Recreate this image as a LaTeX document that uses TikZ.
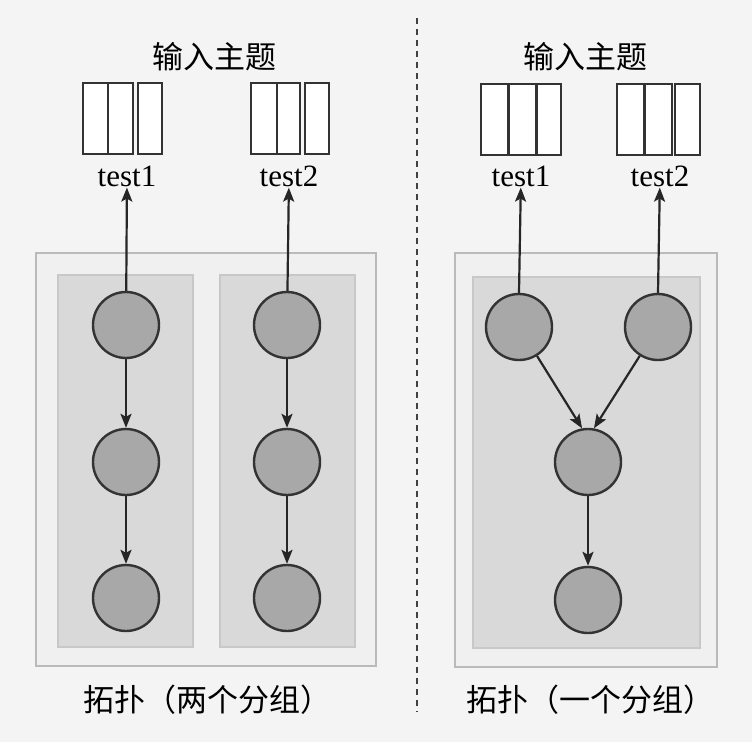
\documentclass[tikz,border=0pt]{standalone}
\usepackage{fontspec}
\setmainfont{Liberation Serif}
\newfontfamily\cjk{Noto Sans CJK SC}
\usetikzlibrary{arrows.meta}
\definecolor{bgc}{HTML}{F4F4F4}
\definecolor{outerc}{HTML}{F0F0F0}
\definecolor{outerd}{HTML}{BABABA}
\definecolor{colc}{HTML}{D9D9D9}
\definecolor{colb}{HTML}{C8C8C8}
\definecolor{vtxc}{HTML}{A8A8A8}
\definecolor{vtxd}{HTML}{333333}
\begin{document}
\begin{tikzpicture}[x=1pt,y=-1pt,
  vtx/.style={circle,draw=vtxd,fill=vtxc,line width=2.4pt,minimum size=66pt,inner sep=0pt},
  part/.style={draw=black!80,line width=2pt,fill=white,minimum height=71pt,inner sep=0pt},
  outerbox/.style={draw=outerd,line width=2.6pt,fill=outerc},
  colbox/.style={draw=colb,line width=1.2pt,fill=colc},
  lbl/.style={font=\fontsize{31}{31}\selectfont,inner sep=1pt},
  title/.style={font=\cjk\fontsize{31}{31}\selectfont,inner sep=0pt},
  arr/.style={line width=2.2pt,draw=black!85,-{Stealth[length=14pt,width=11pt,inset=3pt]}}]
\useasboundingbox (0,0) rectangle (752,742);
\fill[bgc] (0,0) rectangle (752,742);

% ---------- left panel ----------
\node[title] (tl) at (214,57) {输入主题};
\node[part,minimum width=25pt] (a1) at (95.5,118) {};
\node[part,minimum width=25pt] (a2) at (120.5,118) {};
\node[part,minimum width=24pt] (a3) at (150,118) {};
\node[part,minimum width=26pt] (b1) at (263.5,118) {};
\node[part,minimum width=23pt] (b2) at (288,118) {};
\node[part,minimum width=24pt] (b3) at (317,118) {};
\node[lbl] (t1) at (127,176) {test1};
\node[lbl] (t2) at (289,176) {test2};

\draw[outerbox] (36,253) rectangle (376,666);
\draw[colbox] (58,275) rectangle (193,647);
\draw[colbox] (220,275) rectangle (355,647);

\node[vtx] (l1) at (126,325) {};
\node[vtx] (l2) at (126,462) {};
\node[vtx] (l3) at (126,598) {};
\node[vtx] (r1) at (287,325) {};
\node[vtx] (r2) at (287,462) {};
\node[vtx] (r3) at (287,598) {};

\draw[arr] (l1) -- (t1);
\draw[arr] (r1) -- (t2);
\draw[arr] (l1) -- (l2);
\draw[arr] (l2) -- (l3);
\draw[arr] (r1) -- (r2);
\draw[arr] (r2) -- (r3);

\node[title] (bl) at (207,700) {拓扑（两个分组）};

% ---------- separator ----------
\coordinate (s1) at (417,18);
\coordinate (s2) at (417,712);
\draw[black!75,line width=2pt,dash pattern=on 6pt off 5pt] (s1) -- (s2);

% ---------- right panel ----------
\node[title] (tr) at (585,57) {输入主题};
\node[part,minimum width=27pt] (c1) at (494.5,119) {};
\node[part,minimum width=27pt] (c2) at (522,119) {};
\node[part,minimum width=24pt] (c3) at (549,119) {};
\node[part,minimum width=27pt] (d1) at (630.5,119) {};
\node[part,minimum width=27pt] (d2) at (658.5,119) {};
\node[part,minimum width=25pt] (d3) at (687.5,119) {};
\node[lbl] (t3) at (521,176) {test1};
\node[lbl] (t4) at (660,176) {test2};

\draw[outerbox] (455,253) rectangle (717,667);
\draw[colbox] (473,277) rectangle (700,648);

\node[vtx] (g1) at (519,327) {};
\node[vtx] (g2) at (658,327) {};
\node[vtx] (g3) at (588,462) {};
\node[vtx] (g4) at (588,600) {};

\draw[arr] (g1.north) -- (t3);
\draw[arr] (g2.north) -- (t4);
\draw[arr] (g1) -- (g3.100);
\draw[arr] (g2) -- (g3.80);
\draw[arr] (g3) -- (g4);

\node[title] (br) at (590,700) {拓扑（一个分组）};
\end{tikzpicture}
\end{document}
